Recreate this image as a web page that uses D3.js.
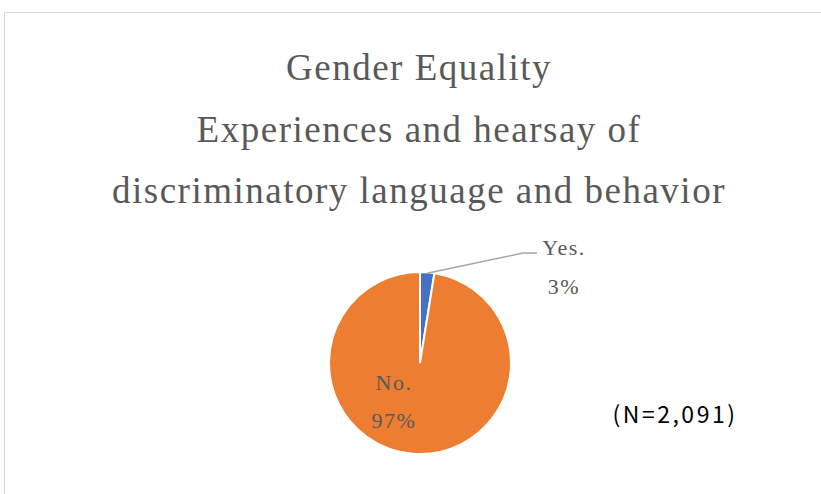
<!DOCTYPE html>
<html lang="en">
<head>
  <meta charset="UTF-8">
  <script src="https://d3js.org/d3.v7.min.js"></script>
  <title>Gender Equality</title>
  <style>
  body {
    margin:0;
    background-color:#fff;
  }
  .title text {
    font-family: "Liberation Serif", "DejaVu Serif", serif;
    fill:#595959;
    letter-spacing:1.5px;
  }
  .lbl {
    font-family: "Liberation Serif", "DejaVu Serif", serif;
    fill:#595959;
    font-size:22px;
    letter-spacing:1.5px;
  }
  </style>
</head>
<body>
  <svg id="chart" width="821" height="494"></svg>

  <script>
  // data
  const categories = ["Yes.", "No."];
  const counts = [53, 2038];
  const colors = ["#4472c4", "#ed7d31"];
  const titleLines = ["Gender Equality", "Experiences and hearsay of", "discriminatory language and behavior"];
  const note = "(N=2,091)";

  let svg = d3.select("#chart");

  // chart area frame (runs past right and bottom edge)
  svg.append("rect")
    .attr("x", 4.5).attr("y", 12.5)
    .attr("width", 830).attr("height", 500)
    .style("fill", "none")
    .style("stroke", "#d9d9d9");

  let title = svg.append("g").attr("class", "title");
  title.selectAll("text").data(titleLines)
    .enter().append("text")
    .attr("x", 419)
    .attr("y", (d, i) => 80 + i * 61.5)
    .attr("text-anchor", "middle")
    .style("font-size", "37px")
    .text(d => d);

  let total = d3.sum(counts);
  let data = categories.map((c, i) => ({ name: c, value: counts[i], color: colors[i] }));

  let cx = 420, cy = 363, r = 91;
  let pie = d3.pie().sort(null).value(d => d.value);
  let arcs = pie(data);
  let arcGen = d3.arc().innerRadius(0).outerRadius(r);

  let g = svg.append("g").attr("transform", "translate(" + cx + "," + cy + ")");
  g.selectAll("path").data(arcs)
    .enter().append("path")
    .attr("d", arcGen)
    .style("fill", d => d.data.color)
    .style("stroke", "#fff")
    .style("stroke-width", 2);

  let pct = v => Math.round(v / total * 100) + "%";

  // Yes label outside with leader line
  let yes = arcs[0];
  let mid = (yes.startAngle + yes.endAngle) / 2;
  let p0 = [Math.sin(mid) * (r - 1), -Math.cos(mid) * (r - 1)];
  g.append("polyline")
    .attr("points", [p0, [103, -110], [117, -110]].map(p => p.join(",")).join(" "))
    .style("fill", "none")
    .style("stroke", "#a6a6a6")
    .style("stroke-width", 1.5);

  svg.append("text").attr("class", "lbl")
    .attr("x", 564).attr("y", 255).attr("text-anchor", "middle")
    .text(yes.data.name);
  svg.append("text").attr("class", "lbl")
    .attr("x", 564).attr("y", 294).attr("text-anchor", "middle")
    .text(pct(yes.data.value));

  // No label inside
  let no = arcs[1];
  svg.append("text").attr("class", "lbl")
    .attr("x", 394).attr("y", 390).attr("text-anchor", "middle")
    .text(no.data.name);
  svg.append("text").attr("class", "lbl")
    .attr("x", 394).attr("y", 428).attr("text-anchor", "middle")
    .text(pct(no.data.value));

  svg.append("text")
    .attr("x", 675).attr("y", 423)
    .attr("text-anchor", "middle")
    .style("font-family", "'Noto Sans CJK JP', 'Noto Sans', sans-serif")
    .style("font-size", "23px")
    .style("letter-spacing", "2.5px")
    .style("fill", "#000")
    .text(note);
  </script>
</body>
</html>
